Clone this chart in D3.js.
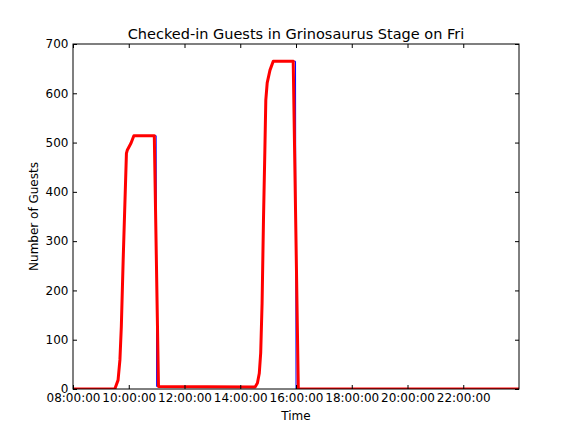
<!DOCTYPE html>
<html lang="en">
  <head>
    <meta charset="utf-8">
    <title>Checked-in Guests</title>
    <script src="https://d3js.org/d3.v7.min.js"></script>
    <style>
      body { margin: 0; background: #fff; }
      text { font-family: 'DejaVu Sans', sans-serif; }
    </style>
  </head>
  <body>
    <div id="container"></div>
    <script>
      // raw check-in counts (blue) and smoothed counts (red)
      const rawTimes = ['08:00', '09:30', '09:37', '09:41', '09:44', '09:48', '09:55', '09:57', '10:05', '10:11', '10:59', '11:00', '11:05',
        '14:32', '14:37', '14:41', '14:44', '14:47', '14:50', '14:53', '14:55', '14:58', '15:04', '15:11', '15:59', '16:00', '24:00']
      const rawValues = [0, 0, 18, 59, 126, 262, 478, 485, 499, 514, 514, 5, 5,
        4, 12, 32, 73, 174, 343, 485, 586, 621, 647, 665, 665, 0, 0]
      const smoothTimes = ['08:00', '09:30', '09:37', '09:41', '09:44', '09:48', '09:55', '09:57', '10:05', '10:11', '10:55', '11:04',
        '14:32', '14:37', '14:41', '14:44', '14:47', '14:50', '14:53', '14:55', '14:58', '15:04', '15:11', '15:54', '16:05', '24:00']
      const smoothValues = [0, 0, 18, 59, 126, 262, 478, 485, 499, 514, 514, 5,
        4, 12, 32, 73, 174, 343, 485, 586, 621, 647, 665, 665, 0, 0]
      const yTicks = [0, 100, 200, 300, 400, 500, 600, 700]
      const xTickLabels = ['08:00:00', '10:00:00', '12:00:00', '14:00:00', '16:00:00', '18:00:00', '20:00:00', '22:00:00']

      const parse = d3.timeParse('%Y-%m-%d %H:%M')
      const toDate = s => s === '24:00' ? parse('2016-06-11 00:00') : parse('2016-06-10 ' + s)

      const W = 578, H = 434
      const mLeft = 73, mRight = 519, mTop = 44, mBottom = 389

      const svg = d3.select('#container').append('svg')
        .attr('width', W)
        .attr('height', H)

      const x = d3.scaleTime()
        .domain([toDate('08:00'), toDate('24:00')])
        .range([mLeft, mRight])
      const y = d3.scaleLinear()
        .domain([0, 700])
        .range([mBottom, mTop])

      const raw = rawTimes.map((t, i) => ({ t: toDate(t), v: rawValues[i] }))
      const smooth = smoothTimes.map((t, i) => ({ t: toDate(t), v: smoothValues[i] }))

      const line = d3.line().x(d => x(d.t)).y(d => y(d.v))

      // clip so the thick line doesn't spill out
      svg.append('clipPath').attr('id', 'clip')
        .append('rect')
        .attr('x', mLeft).attr('y', mTop)
        .attr('width', mRight - mLeft).attr('height', mBottom - mTop)

      const plot = svg.append('g').attr('clip-path', 'url(#clip)')
      plot.append('path')
        .datum(raw)
        .attr('d', line)
        .attr('fill', 'none')
        .attr('stroke', '#0000ff')
        .attr('stroke-width', 1)
      plot.append('path')
        .datum(smooth)
        .attr('d', line)
        .attr('fill', 'none')
        .attr('stroke', '#ff0000')
        .attr('stroke-width', 3)
        .attr('stroke-linejoin', 'round')

      // axes, ticks inside on all four sides
      const xTickDates = xTickLabels.map(s => toDate(s.slice(0, 5)))
      const fmt = d3.timeFormat('%H:%M:%S')
      svg.append('g')
        .attr('transform', `translate(0,${mBottom})`)
        .call(d3.axisBottom(x).tickValues(xTickDates).tickFormat(fmt).tickSizeInner(-4).tickSizeOuter(0).tickPadding(4.5))
      svg.append('g')
        .attr('transform', `translate(0,${mTop})`)
        .call(d3.axisTop(x).tickValues(xTickDates).tickFormat('').tickSizeInner(-4).tickSizeOuter(0))
      svg.append('g')
        .attr('transform', `translate(${mLeft},0)`)
        .call(d3.axisLeft(y).tickValues(yTicks).tickSizeInner(-4).tickSizeOuter(0).tickPadding(4.5))
      svg.append('g')
        .attr('transform', `translate(${mRight},0)`)
        .call(d3.axisRight(y).tickValues(yTicks).tickFormat('').tickSizeInner(-4).tickSizeOuter(0))

      svg.selectAll('.domain').remove()
      svg.selectAll('.tick line').attr('stroke', '#000')
      svg.selectAll('.tick text')
        .attr('font-size', 12)
        .attr('font-family', 'DejaVu Sans')
        .attr('fill', '#000')

      svg.append('rect')
        .attr('x', mLeft).attr('y', mTop)
        .attr('width', mRight - mLeft).attr('height', mBottom - mTop)
        .attr('fill', 'none')
        .attr('stroke', '#000')
        .attr('stroke-width', 1)

      svg.append('text')
        .attr('x', (mLeft + mRight) / 2)
        .attr('y', 38.5)
        .attr('text-anchor', 'middle')
        .attr('font-size', 14.5)
        .text('Checked-in Guests in Grinosaurus Stage on Fri')
      svg.append('text')
        .attr('x', (mLeft + mRight) / 2)
        .attr('y', 420)
        .attr('text-anchor', 'middle')
        .attr('font-size', 12)
        .text('Time')
      svg.append('text')
        .attr('transform', `translate(38,${(mTop + mBottom) / 2}) rotate(-90)`)
        .attr('text-anchor', 'middle')
        .attr('font-size', 12)
        .text('Number of Guests')
    </script>
  </body>
</html>
